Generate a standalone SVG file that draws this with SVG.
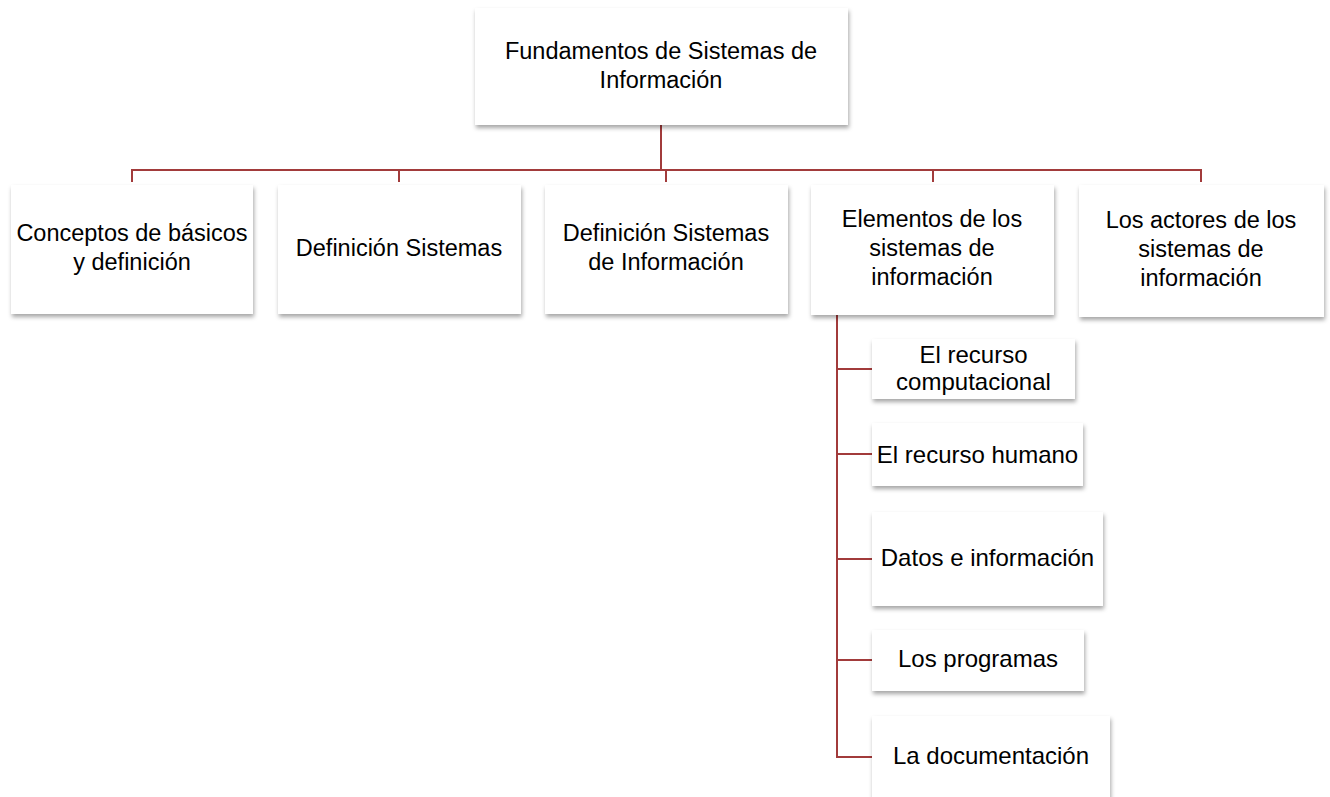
<svg xmlns="http://www.w3.org/2000/svg" width="1330" height="797" viewBox="0 0 1330 797">
<defs>
<filter id="sh" x="-10%" y="-10%" width="125%" height="135%">
<feDropShadow dx="1" dy="3" stdDeviation="2" flood-color="#000" flood-opacity="0.35"/>
</filter>
</defs>
<style>
.box{fill:#fff;filter:url(#sh)}
.t{font-family:"Liberation Sans",Arial,sans-serif;font-size:23.5px;fill:#000;text-anchor:middle}
.s{font-size:24px}
.c{stroke:#A23B3B;stroke-width:2;fill:none}
</style>
<rect width="1330" height="797" fill="#fff"/>
<g id="connectors">
<path class="c" d="M661 125V170M132 182V170H1201V182M399 170V182M666 170V182M933 170V182"/>
<path class="c" d="M837 315V757H872M837 369H872M837 454H872M837 559H872M837 660H872"/>
</g>
<g id="root">
<rect class="box" x="475" y="8" width="373" height="117"/>
<text class="t" x="661" y="59">Fundamentos de Sistemas de</text>
<text class="t" x="661" y="88">Información</text>
</g>
<g id="n1">
<rect class="box" x="11" y="185" width="242" height="129"/>
<text class="t" x="132" y="241">Conceptos de básicos</text>
<text class="t" x="132" y="270">y definición</text>
</g>
<g id="n2">
<rect class="box" x="278" y="185" width="243" height="129"/>
<text class="t" x="399" y="256">Definición Sistemas</text>
</g>
<g id="n3">
<rect class="box" x="545" y="185" width="243" height="129"/>
<text class="t" x="666" y="241">Definición Sistemas</text>
<text class="t" x="666" y="270">de Información</text>
</g>
<g id="n4">
<rect class="box" x="811" y="185" width="243" height="130"/>
<text class="t" x="932" y="226.5">Elementos de los</text>
<text class="t" x="932" y="255.5">sistemas de</text>
<text class="t" x="932" y="284.5">información</text>
</g>
<g id="n5">
<rect class="box" x="1079" y="185" width="245" height="132"/>
<text class="t" x="1201" y="228">Los actores de los</text>
<text class="t" x="1201" y="257">sistemas de</text>
<text class="t" x="1201" y="286">información</text>
</g>
<g id="s1">
<rect class="box" x="872" y="339" width="203" height="60"/>
<text class="t s" x="973.5" y="363">El recurso</text>
<text class="t s" x="973.5" y="390">computacional</text>
</g>
<g id="s2">
<rect class="box" x="872" y="423" width="211" height="63"/>
<text class="t s" x="977.5" y="463">El recurso humano</text>
</g>
<g id="s3">
<rect class="box" x="872" y="512" width="231" height="94"/>
<text class="t s" x="987.5" y="566">Datos e información</text>
</g>
<g id="s4">
<rect class="box" x="872" y="630" width="212" height="61"/>
<text class="t s" x="978" y="667">Los programas</text>
</g>
<g id="s5">
<rect class="box" x="872" y="716" width="238" height="84"/>
<text class="t s" x="991" y="764">La documentación</text>
</g>
</svg>
